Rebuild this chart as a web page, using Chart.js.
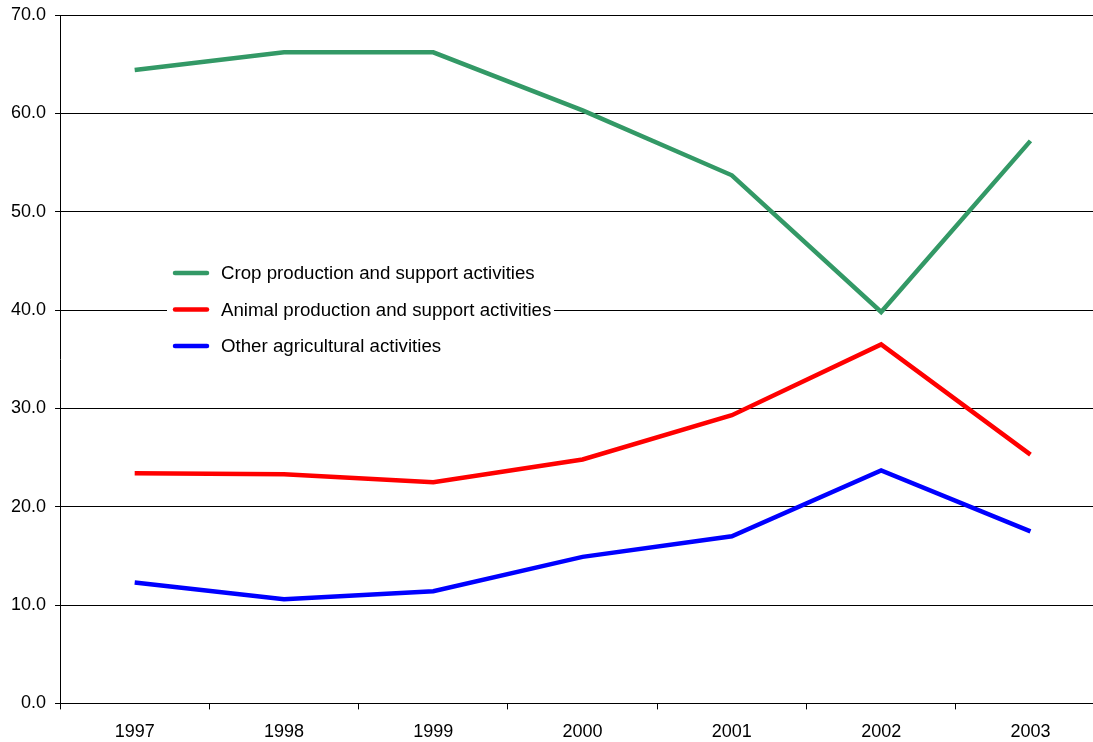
<!DOCTYPE html>
<html lang="en">

<head>
    <meta charset="UTF-8">
    <script src="https://cdn.jsdelivr.net/npm/chart.js@4/dist/chart.umd.min.js"></script>
    <title>agricultural activities</title>
    <style>
        html, body { margin: 0; padding: 0; background: #fff; overflow: hidden; }
        #wrap { width: 1093px; height: 742px; }
    </style>
</head>

<body>
    <div id="wrap"><canvas id="lineChart"></canvas></div>

    <script>
        // values
        const years = ["1997", "1998", "1999", "2000", "2001", "2002", "2003"]
        const crop = [64.4, 66.2, 66.2, 60.3, 53.7, 39.8, 57.2]
        const animal = [23.4, 23.3, 22.5, 24.8, 29.3, 36.5, 25.3]
        const other = [12.3, 10.6, 11.4, 14.9, 17.0, 23.7, 17.5]
        const seriesNames = ["Crop production and support activities", "Animal production and support activities", "Other agricultural activities"]
        const yTicks = [0, 10, 20, 30, 40, 50, 60, 70]

        const FONT = "'Liberation Sans', Arial, sans-serif"

        function pts(vals) {
            return vals.map((v, i) => ({ x: Number(years[i]), y: v }))
        }

        // legend drawn inside the plot, white box covers the grid line
        const innerLegend = {
            id: "innerLegend",
            beforeDatasetsDraw(chart) {
                const ctx = chart.ctx
                ctx.save()
                ctx.fillStyle = "#fff"
                ctx.fillRect(167, 258, 387, 102)
                ctx.font = "18.7px " + FONT
                ctx.textBaseline = "middle"
                chart.data.datasets.forEach((ds, i) => {
                    let y = 273 + i * 36.5
                    ctx.strokeStyle = ds.borderColor
                    ctx.lineWidth = 4.5
                    ctx.lineCap = "round"
                    ctx.beginPath()
                    ctx.moveTo(175, y)
                    ctx.lineTo(207, y)
                    ctx.stroke()
                    ctx.fillStyle = "#000"
                    ctx.fillText(ds.label, 221, y + 1)
                })
                ctx.restore()
            }
        }

        new Chart("lineChart", {
            type: "line",
            data: {
                datasets: [{
                    label: seriesNames[0],
                    data: pts(crop),
                    borderColor: "#339966",
                    backgroundColor: "#339966",
                    borderWidth: 4.5,
                    pointRadius: 0,
                    tension: 0,
                    fill: false
                }, {
                    label: seriesNames[1],
                    data: pts(animal),
                    borderColor: "#ff0000",
                    backgroundColor: "#ff0000",
                    borderWidth: 4.5,
                    pointRadius: 0,
                    tension: 0,
                    fill: false
                }, {
                    label: seriesNames[2],
                    data: pts(other),
                    borderColor: "#0000ff",
                    backgroundColor: "#0000ff",
                    borderWidth: 4.5,
                    pointRadius: 0,
                    tension: 0,
                    fill: false
                }]
            },
            options: {
                responsive: true,
                maintainAspectRatio: false,
                animation: false,
                layout: { padding: { top: 0, left: 2, right: 0, bottom: -13 } },
                plugins: {
                    legend: { display: false },
                    tooltip: { enabled: false }
                },
                scales: {
                    x: {
                        type: "linear",
                        min: 1996.5,
                        max: 1996.5 + 1033 / 149.3,
                        afterBuildTicks: s => {
                            let t = []
                            years.forEach(y => {
                                t.push({ value: Number(y) - 0.5 })
                                t.push({ value: Number(y) })
                            })
                            s.ticks = t
                        },
                        border: { display: true, color: "#000", width: 1 },
                        grid: {
                            drawOnChartArea: false,
                            drawTicks: true,
                            tickLength: 6,
                            color: c => (c.tick && c.tick.value % 1 === 0) ? "rgba(0,0,0,0)" : "#000"
                        },
                        ticks: {
                            autoSkip: false,
                            maxRotation: 0,
                            padding: 12,
                            color: "#000",
                            font: { family: FONT, size: 18 },
                            callback: v => v % 1 === 0 ? String(v) : ""
                        }
                    },
                    y: {
                        min: 0,
                        max: 70,
                        afterBuildTicks: s => { s.ticks = yTicks.map(v => ({ value: v })) },
                        afterFit: s => { s.paddingTop = 15 },
                        border: { display: true, color: "#000", width: 1 },
                        grid: {
                            color: "#000",
                            lineWidth: 1,
                            tickLength: 5
                        },
                        ticks: {
                            padding: 9,
                            color: "#000",
                            font: { family: FONT, size: 18 },
                            callback: v => v.toFixed(1)
                        }
                    }
                }
            },
            plugins: [innerLegend]
        })
    </script>
</body>

</html>
